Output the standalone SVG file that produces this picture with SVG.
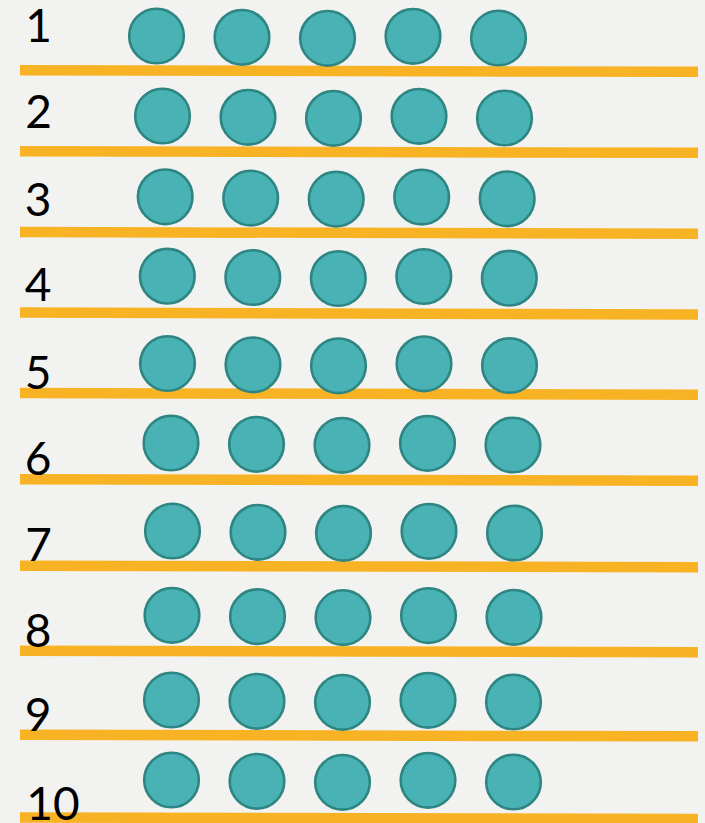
<svg xmlns="http://www.w3.org/2000/svg" width="705" height="823" viewBox="0 0 705 823">
<style>
.bar{stroke:#f8b325;stroke-width:10.5;stroke-linecap:butt;fill:none}
.c{fill:#48b2b4;stroke:#2e8582;stroke-width:2.6}
.lbl{font-family:Lato,"Liberation Sans",sans-serif;font-size:46px;fill:#000;text-anchor:middle}
</style>
<rect width="705" height="823" fill="#f2f2f0"/>
<g id="bars">
<line class="bar" x1="20" y1="70.3" x2="698" y2="71.8"/>
<line class="bar" x1="20" y1="151.3" x2="698" y2="152.8"/>
<line class="bar" x1="20" y1="232" x2="698" y2="233.8"/>
<line class="bar" x1="20" y1="312.5" x2="698" y2="314.5"/>
<line class="bar" x1="20" y1="393" x2="698" y2="394.8"/>
<line class="bar" x1="20" y1="479.2" x2="698" y2="480.7"/>
<line class="bar" x1="20" y1="565.7" x2="698" y2="567.2"/>
<line class="bar" x1="20" y1="650.7" x2="698" y2="652.2"/>
<line class="bar" x1="20" y1="734.8" x2="698" y2="736.3"/>
<line class="bar" x1="20" y1="817.5" x2="698" y2="819"/>
</g>
<g id="row1">
<circle class="c" cx="156.5" cy="36" r="27.3"/><circle class="c" cx="242" cy="37.3" r="27.3"/><circle class="c" cx="327.5" cy="38.3" r="27.3"/><circle class="c" cx="413" cy="36.3" r="27.3"/><circle class="c" cx="498.5" cy="38" r="27.3"/>
<text class="lbl" x="38.5" y="42">1</text>
</g>
<g id="row2">
<circle class="c" cx="162.5" cy="116" r="27.3"/><circle class="c" cx="248" cy="117.3" r="27.3"/><circle class="c" cx="333.5" cy="118.3" r="27.3"/><circle class="c" cx="419" cy="116.3" r="27.3"/><circle class="c" cx="504.5" cy="118" r="27.3"/>
<text class="lbl" x="38.5" y="128">2</text>
</g>
<g id="row3">
<circle class="c" cx="165.2" cy="196.8" r="27.3"/><circle class="c" cx="250.7" cy="198.1" r="27.3"/><circle class="c" cx="336.2" cy="199.1" r="27.3"/><circle class="c" cx="421.7" cy="197.1" r="27.3"/><circle class="c" cx="507.2" cy="198.8" r="27.3"/>
<text class="lbl" x="38" y="216">3</text>
</g>
<g id="row4">
<circle class="c" cx="167.3" cy="276.2" r="27.3"/><circle class="c" cx="252.8" cy="277.5" r="27.3"/><circle class="c" cx="338.3" cy="278.5" r="27.3"/><circle class="c" cx="423.8" cy="276.5" r="27.3"/><circle class="c" cx="509.3" cy="278.2" r="27.3"/>
<text class="lbl" x="38" y="301">4</text>
</g>
<g id="row5">
<circle class="c" cx="167.5" cy="363.5" r="27.3"/><circle class="c" cx="253" cy="364.8" r="27.3"/><circle class="c" cx="338.5" cy="365.8" r="27.3"/><circle class="c" cx="424" cy="363.8" r="27.3"/><circle class="c" cx="509.5" cy="365.5" r="27.3"/>
<text class="lbl" x="38" y="389">5</text>
</g>
<g id="row6">
<circle class="c" cx="171" cy="443" r="27.3"/><circle class="c" cx="256.5" cy="444.3" r="27.3"/><circle class="c" cx="342" cy="445.3" r="27.3"/><circle class="c" cx="427.5" cy="443.3" r="27.3"/><circle class="c" cx="513" cy="445" r="27.3"/>
<text class="lbl" x="38" y="475">6</text>
</g>
<g id="row7">
<circle class="c" cx="172.5" cy="531" r="27.3"/><circle class="c" cx="258" cy="532.3" r="27.3"/><circle class="c" cx="343.5" cy="533.3" r="27.3"/><circle class="c" cx="429" cy="531.3" r="27.3"/><circle class="c" cx="514.5" cy="533" r="27.3"/>
<text class="lbl" x="38.5" y="561">7</text>
</g>
<g id="row8">
<circle class="c" cx="172" cy="615.3" r="27.3"/><circle class="c" cx="257.5" cy="616.6" r="27.3"/><circle class="c" cx="343" cy="617.6" r="27.3"/><circle class="c" cx="428.5" cy="615.6" r="27.3"/><circle class="c" cx="514" cy="617.3" r="27.3"/>
<text class="lbl" x="38" y="647">8</text>
</g>
<g id="row9">
<circle class="c" cx="171.5" cy="700" r="27.3"/><circle class="c" cx="257" cy="701.3" r="27.3"/><circle class="c" cx="342.5" cy="702.3" r="27.3"/><circle class="c" cx="428" cy="700.3" r="27.3"/><circle class="c" cx="513.5" cy="702" r="27.3"/>
<text class="lbl" x="38" y="731">9</text>
</g>
<g id="row10">
<circle class="c" cx="171.5" cy="780" r="27.3"/><circle class="c" cx="257" cy="781.3" r="27.3"/><circle class="c" cx="342.5" cy="782.3" r="27.3"/><circle class="c" cx="428" cy="780.3" r="27.3"/><circle class="c" cx="513.5" cy="782" r="27.3"/>
<text class="lbl" x="53" y="820">10</text>
</g>
</svg>
